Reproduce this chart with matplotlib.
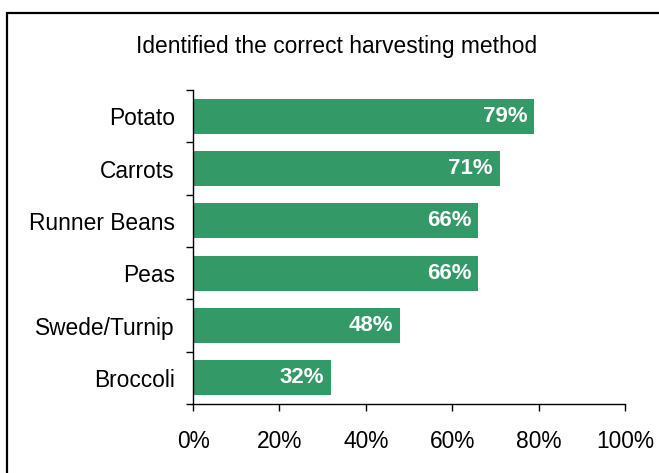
import matplotlib
matplotlib.use('Agg')
import matplotlib.pyplot as plt
from matplotlib.patches import Rectangle
from matplotlib.ticker import FuncFormatter, FixedLocator

plt.rcParams['font.family'] = ['Liberation Sans', 'DejaVu Sans']

categories = ['Potato', 'Carrots', 'Runner Beans', 'Peas', 'Swede/Turnip', 'Broccoli']
values = [79, 71, 66, 66, 48, 32]
bar_color = '#339966'

W, H = 659, 473
fig = plt.figure(figsize=(W / 100, H / 100), dpi=100)

# axes in pixel terms: left 193, right 625, top 90, bottom 404
ax = fig.add_axes([193 / W, (H - 404) / H, (625 - 193) / W, (404 - 90) / H])

y = list(range(len(categories)))
ax.barh(y, values, height=0.67, color=bar_color, zorder=2)
ax.set_xlim(0, 100)
ax.set_ylim(len(categories) - 0.5, -0.5)

for yi, v in zip(y, values):
    ax.text(v - 1.6, yi, f'{v}%', ha='right', va='center', color='white',
            fontsize=16, fontweight='bold', zorder=3)

ax.set_xticks([0, 20, 40, 60, 80, 100])
ax.xaxis.set_major_formatter(FuncFormatter(lambda x, p: f'{x:.0f}%'))
ax.set_yticks(y)
ax.set_yticklabels(categories)
ax.yaxis.set_minor_locator(FixedLocator([i - 0.5 for i in range(len(categories) + 1)]))
ax.tick_params(axis='y', which='major', length=0, pad=13, labelsize=16.4)
ax.tick_params(axis='y', which='minor', length=5, width=1, direction='out')
ax.tick_params(axis='x', length=5, width=1, direction='out', pad=14, labelsize=16.4)

for s in ['top', 'right']:
    ax.spines[s].set_visible(False)
ax.spines['left'].set_linewidth(1)
ax.spines['bottom'].set_linewidth(1)

fig.text(337 / W, 1 - 47 / H, 'Identified the correct harvesting method',
         ha='center', va='center', fontsize=16.4)

# outer frame, cut off at the right and bottom
fig.patches.append(Rectangle((7 / W, -0.1), 1.0, 1 - 13 / H + 0.1,
                             transform=fig.transFigure, fill=False,
                             edgecolor='black', linewidth=1.6))

fig.savefig('out.png', dpi=100)
